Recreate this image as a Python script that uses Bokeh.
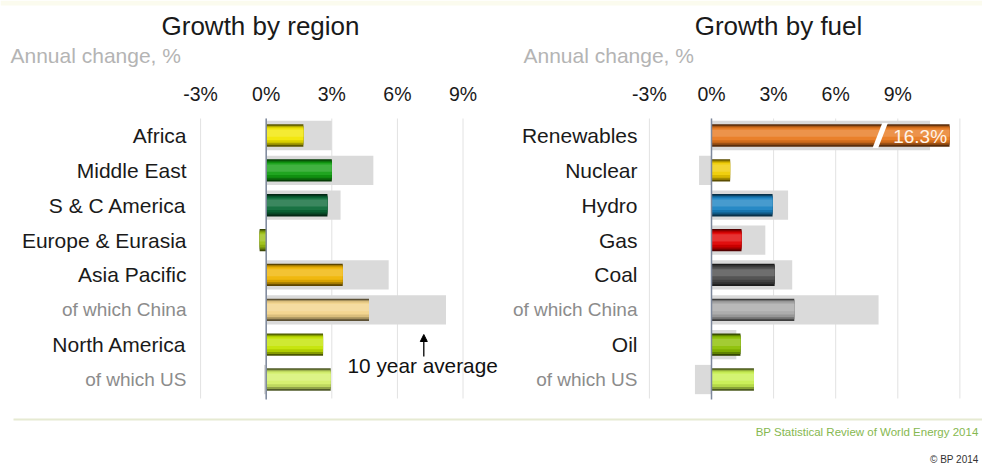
from bokeh.plotting import figure
from bokeh.models import Range1d, ColumnDataSource, Arrow, NormalHead
from bokeh.core.properties import value
from bokeh.embed import file_html
from bokeh.resources import INLINE

# ---------------- data ----------------
regions = ["Africa", "Middle East", "S & C America", "Europe & Eurasia",
           "Asia Pacific", "of which China", "North America", "of which US"]
region_2013 = [1.7, 3.0, 2.8, -0.3, 3.5, 4.7, 2.6, 2.95]
region_avg = [3.0, 4.9, 3.4, 0.0, 5.6, 8.65, 0.0, -0.1]
region_colors = ["#f2e600", "#12a012", "#0b6a38", "#9cc012",
                 "#f0b400", "#f3d48a", "#c4e400", "#d4f06a"]

fuels = ["Renewables", "Nuclear", "Hydro", "Gas", "Coal",
         "of which China", "Oil", "of which US"]
fuel_2013 = [16.3, 0.9, 2.95, 1.45, 3.05, 4.0, 1.4, 2.05]
fuel_avg = [14.1, -0.6, 3.7, 2.6, 3.9, 8.3, 1.2, -0.8]
fuel_colors = ["#e8781e", "#f0cc00", "#1a82c2", "#e00000",
               "#4a4a4a", "#a8a8a8", "#8cc000", "#c8f050"]

tick_values = [-3, 0, 3, 6, 9]
tick_labels = ["-3%", "0%", "3%", "6%", "9%"]
fuel_grid_values = [-3, 0, 3, 6, 9, 12]

sub_rows = [False, False, False, False, False, True, False, True]

# axis break for the renewables bar
BREAK_AT = 7.9
BREAK_END = 11.5
BREAK_MAX = 16.3


def disp(v):
    if v <= BREAK_AT:
        return v
    return BREAK_AT + (v - BREAK_AT) * (BREAK_END - BREAK_AT) / (BREAK_MAX - BREAK_AT)


# ---------------- layout (pixel -> data) ----------------
W, H = 982, 464
L0, LPX = 265.7, 21.87     # left panel: pixel of 0%, px per 1%
R0, RPX = 711.0, 20.7      # right panel
Y0, YPX = 135.0, 34.86     # first row centre, px per row


def lx(px):
    return (px - L0) / LPX


def rx(px):
    return (px - R0) / RPX


def ry(px):
    return (px - Y0) / YPX


p = figure(width=W, height=H, output_backend="svg", toolbar_location=None,
           x_range=Range1d(lx(0), lx(W)), y_range=Range1d(ry(H), ry(0)),
           x_axis_location=None, y_axis_location=None, min_border=0,
           background_fill_color="white", border_fill_color="white")
p.extra_x_ranges = {"fuel": Range1d(rx(0), rx(W))}
p.grid.visible = False
p.outline_line_color = None

FONT = value("Liberation Sans")

# top cream band
p.quad(left=lx(0), right=lx(W), top=ry(0), bottom=ry(5), fill_color="#fbfbee",
       line_color=None)


def shade(hexc, f):
    r, g, b = int(hexc[1:3], 16), int(hexc[3:5], 16), int(hexc[5:7], 16)
    if f >= 0:
        r, g, b = [int(c + (255 - c) * f) for c in (r, g, b)]
    else:
        r, g, b = [int(c * (1 + f)) for c in (r, g, b)]
    return "#%02x%02x%02x" % (r, g, b)


# nested layers: (height fraction, centre offset fraction, shade)
layers = [(1.0, 0.0, -0.62), (0.86, -0.01, -0.32), (0.72, -0.03, -0.1),
          (0.54, -0.06, 0.06), (0.32, -0.1, 0.2)]
BAR_H = 0.64
AVG_H = 0.84


def panel(names, vals, avgs, colors, grid_vals, rng, xfun, label_px, sub_px, title, title_px):
    kw = {} if rng is None else {"x_range_name": rng}
    rows = list(range(len(names)))
    # gridlines
    p.segment(x0=grid_vals, x1=grid_vals, y0=[ry(118)] * len(grid_vals),
              y1=[ry(398)] * len(grid_vals), line_color="#e2e2e2", line_width=1, **kw)
    # average bars
    p.hbar(y=rows, left=0, right=[disp(a) for a in avgs], height=AVG_H,
           fill_color="#dadada", line_color=None, **kw)
    # shaded bars
    for hf, off, f in layers:
        src = ColumnDataSource(dict(y=[r + off * BAR_H for r in rows],
                                    right=[disp(v) for v in vals],
                                    c=[shade(c, f) for c in colors]))
        p.hbar(y="y", left=0, right="right", height=BAR_H * hf, fill_color="c",
               line_color=None, source=src, **kw)
    # zero line
    p.segment(x0=[0], x1=[0], y0=[ry(118)], y1=[ry(399)], line_color="#7d889c",
              line_width=1.5, **kw)
    # tick labels
    p.text(x=tick_values, y=[ry(93)] * len(tick_values), text=tick_labels,
           text_align="center", text_baseline="middle", text_font=FONT,
           text_font_size="19.5px", text_color="#1a1a1a", **kw)
    # category labels
    src = ColumnDataSource(dict(
        x=[xfun(label_px)] * len(names), y=rows, t=names,
        c=["#8c8c8c" if s else "#1a1a1a" for s in sub_rows],
        fs=["19px" if s else "21px" for s in sub_rows]))
    p.text(x="x", y="y", text="t", text_color="c", text_font_size="fs",
           text_align="right", text_baseline="middle", text_font=FONT, source=src, **kw)
    # title and subtitle
    p.text(x=[xfun(title_px)], y=[ry(25)], text=[title], text_align="center",
           text_baseline="middle", text_font=FONT, text_font_size="26px",
           text_color="#1a1a1a", **kw)
    p.text(x=[xfun(sub_px)], y=[ry(55)], text=["Annual change, %"], text_align="left",
           text_baseline="middle", text_font=FONT, text_font_size="21px",
           text_color="#b4b4b4", **kw)


panel(regions, region_2013, region_avg, region_colors, tick_values, None, lx,
      186, 10, "Growth by region", 260)
panel(fuels, fuel_2013, fuel_avg, fuel_colors, fuel_grid_values, "fuel", rx,
      637, 523, "Growth by fuel", 778)

# axis break on renewables bar
yb = 0
p.patch(x=[BREAK_AT - 0.12, BREAK_AT + 0.15, BREAK_AT + 0.62, BREAK_AT + 0.35],
        y=[yb + 0.36, yb + 0.36, yb - 0.36, yb - 0.36], fill_color="white",
        line_color=None, x_range_name="fuel")
p.text(x=[disp(fuel_2013[0]) - 0.12], y=[0.02], text=["%.1f%%" % fuel_2013[0]],
       text_align="right", text_baseline="middle", text_font=FONT,
       text_font_size="19px", text_color="#fff4e8", x_range_name="fuel")

# 10 year average annotation
ax = lx(423.3)
p.add_layout(Arrow(end=NormalHead(size=7, fill_color="black", line_color="black"),
                   x_start=ax, y_start=ry(356), x_end=ax, y_end=ry(334),
                   line_color="black", line_width=1.3))
p.text(x=[lx(347)], y=[ry(365)], text=["10 year average"], text_align="left",
       text_baseline="middle", text_font=FONT, text_font_size="20.8px",
       text_color="#111111")

# footer
p.segment(x0=[lx(13)], x1=[lx(W)], y0=[ry(419)], y1=[ry(419)], line_color="#e6ead2",
          line_width=2)
p.text(x=[lx(978)], y=[ry(431)], text=["BP Statistical Review of World Energy 2014"],
       text_align="right", text_baseline="middle", text_font=FONT,
       text_font_size="11.5px", text_color="#86b850")
p.text(x=[lx(978)], y=[ry(459)], text=["\u00a9 BP 2014"], text_align="right",
       text_baseline="middle", text_font=FONT, text_font_size="10px",
       text_color="#333333")

open("out.html", "w").write(file_html(p, INLINE))
